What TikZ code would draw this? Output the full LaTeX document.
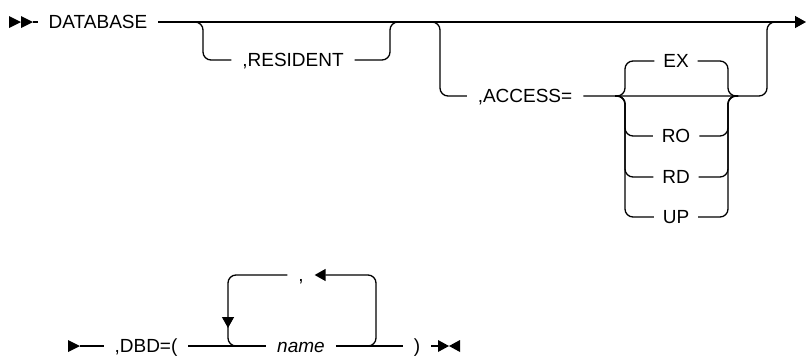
\documentclass[tikz,border=0pt]{standalone}
\usepackage{fontspec}
\setmainfont{Liberation Sans}
\usetikzlibrary{arrows.meta, positioning}

\begin{document}
\begin{tikzpicture}[
        x=1pt, y=-1pt,
        font=\fontsize{19}{22}\selectfont,
        line width=1.3pt,
        every node/.style={outer sep=0pt},
        % Palabras clave: el centro del nodo cae sobre la vía
        % (text height fija para que todas queden a la misma altura).
        kw/.style={inner xsep=11pt, inner ysep=0pt,
                   text height=12pt, text depth=0pt},
        opt/.style={kw, inner xsep=9pt},
        rail/.style={rounded corners=8pt},
        flow/.style={-{Triangle[length=11pt, width=12pt]}}
    ]
        \useasboundingbox (0,0) rectangle (806,356);

        % Fila superior
        \node[kw] (db)  at (98,22)   {DATABASE};
        \node[kw] (res) at (293,60)  {,RESIDENT};
        \node[kw] (acc) at (525,96)  {,ACCESS=};
        \node[opt] (ex) at (676,61)  {EX};
        \node[opt] (ro) at (676,136) {RO};
        \node[opt] (rd) at (676,177) {RD};
        \node[opt] (up) at (676,217) {UP};

        \coordinate (resL) at (203,22);
        \coordinate (resR) at (390,22);
        \coordinate (accL) at (440,22);
        \coordinate (accR) at (767,22);
        \coordinate (chL)  at (625,96);
        \coordinate (chR)  at (728,96);
        \coordinate (fin)  at (806,22);

        \fill (9,16) -- (21,22) -- (9,28) -- cycle;
        \fill (21,16) -- (33,22) -- (21,28) -- cycle;
        \draw (33,22) -- (db.west);
        \draw[flow] (db.east) -- (fin);

        \draw[rail] ([xshift=-10pt]resL) -- (resL) |- (res.west);
        \draw[rail] (res.east) -| (resR) -- ([xshift=10pt]resR);

        \draw[rail] ([xshift=-10pt]accL) -- (accL) |- (acc.west);
        \draw[rail] (acc.east) -| (accR) -- ([xshift=10pt]accR);

        \draw[rail] ([xshift=-10pt]chL) -- (chL) |- (ex.west);
        \draw[rail] (ex.east) -| (chR) -- ([xshift=10pt]chR);
        \draw[rail] ([xshift=-10pt]chL) -- (chL) |- (ro.west);
        \draw[rail] (ro.east) -| (chR) -- ([xshift=10pt]chR);
        \draw[rail] ([xshift=-10pt]chL) -- (chL) |- (rd.west);
        \draw[rail] (rd.east) -| (chR) -- ([xshift=10pt]chR);
        \draw[rail] ([xshift=-10pt]chL) -- (chL) |- (up.west);
        \draw[rail] (up.east) -| (chR) -- ([xshift=10pt]chR);

        % Fila inferior
        \node[kw] (dbd) at (146,346) {,DBD=(};
        \node[kw] (nm)  at (301,346) {\itshape name};
        \node[kw] (com) at (301,275) {,};
        \node[kw] (rp)  at (417,346) {)};

        \coordinate (lpL) at (228,346);
        \coordinate (lpR) at (376,346);
        \coordinate (endm) at (438,346);

        \fill (68,340) -- (80,346) -- (68,352) -- cycle;
        \draw (80,346) -- (dbd.west);
        \draw (dbd.east) -- (nm.west);
        \draw (nm.east) -- (rp.west);
        \draw (rp.east) -- (endm);
        \fill (438,340) -- (449,346) -- (438,352) -- cycle;
        \fill (460,340) -- (449,346) -- (460,352) -- cycle;

        \draw[rail, flow] ([xshift=-10pt]lpR) -- (lpR) |- (com.east);
        \draw[rail, flow] (com.west) -| ([yshift=18pt]lpL);
        \draw[rail] ([yshift=20pt]lpL) -- (lpL) -- ([xshift=10pt]lpL);
    \end{tikzpicture}
\end{document}
